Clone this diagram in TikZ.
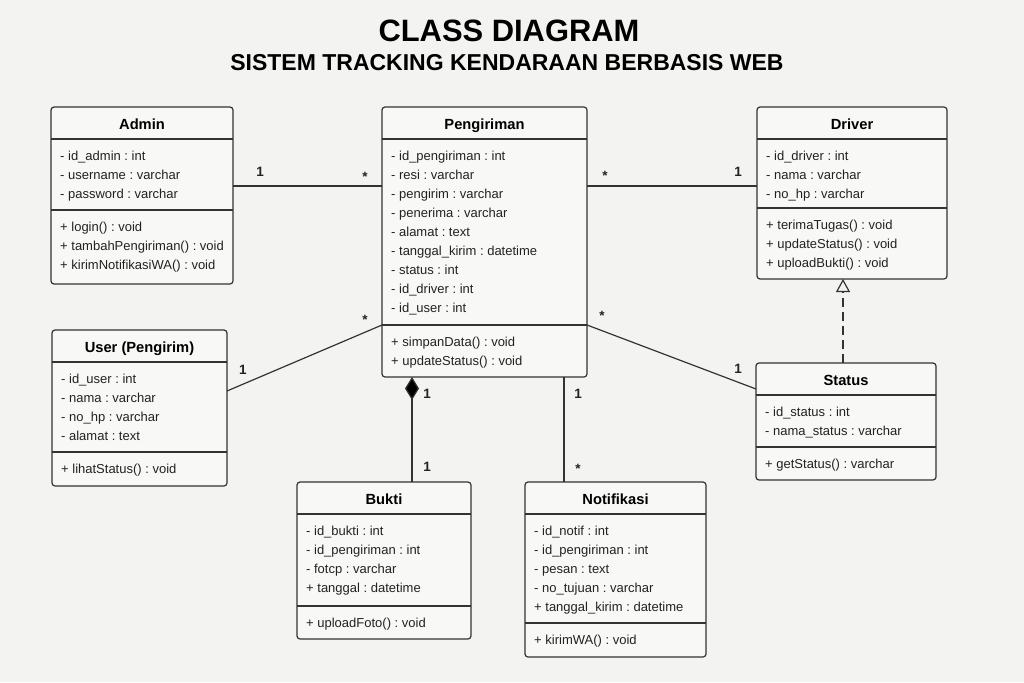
\documentclass[tikz,border=0pt]{standalone}
\usepackage{fontspec}
\setmainfont{Liberation Sans}
\usetikzlibrary{arrows.meta}
\frenchspacing
\definecolor{bg}{HTML}{F3F3F1}
\definecolor{boxfill}{HTML}{F8F8F7}
\definecolor{ink}{HTML}{333333}
\definecolor{txt}{HTML}{222222}
\tikzset{
  cls/.style={draw=ink, line width=1.2pt, fill=boxfill, rounded corners=3pt, inner sep=0pt, outer sep=0pt, anchor=north west},
  sepline/.style={draw=ink, line width=1.1pt},
  clstitle/.style={font=\fontsize{14.7}{16}\selectfont\bfseries, text=black, inner sep=0pt, anchor=base},
  member/.style={font=\fontsize{13}{15}\selectfont, text=txt, inner sep=0pt, anchor=base west},
  assoc/.style={draw=ink, line width=1.2pt},
  mult/.style={font=\fontsize{13.5}{15}\selectfont\bfseries, text=txt, inner sep=0pt, anchor=base},
}
\newcommand\umlclass[9]{%
  \node[cls, minimum width={(#4-#2)*1pt}, minimum height={(#5-#3)*1pt}] (#1) at (#2,#3) {};
  \draw[sepline] (#2,#3+32) -- (#4,#3+32);
  \draw[sepline] (#2,#7) -- (#4,#7);
  \node[clstitle] (#1-title) at ({(#2+#4)/2},#3+22) {#6};
  \foreach \t [count=\i from 0] in {#8} \node[member] (#1-a\i) at (#2+9,#3+53+19*\i) {\t};
  \foreach \t [count=\i from 0] in {#9} \node[member] (#1-m\i) at (#2+9,#7+21.5+19*\i) {\t};
}
\begin{document}
\begin{tikzpicture}[x=1pt,y=-1pt]
\fill[bg] (0,0) rectangle (1024,682);
\useasboundingbox (0,0) rectangle (1024,682);

\node[font=\fontsize{30.9}{34}\selectfont\bfseries, inner sep=0pt, anchor=base] (title) at (509,41.5) {CLASS DIAGRAM};
\node[font=\fontsize{23}{26}\selectfont\bfseries, inner sep=0pt, anchor=base] (subtitle) at (507,71) {SISTEM TRACKING KENDARAAN BERBASIS WEB};

\umlclass{admin}{51}{107}{233}{284}{Admin}{210}
  {- id\_admin : int, - username : varchar, - password : varchar}
  {+ login() : void, + tambahPengiriman() : void, + kirimNotifikasiWA() : void}
\umlclass{peng}{382}{107}{587}{377}{Pengiriman}{325}
  {- id\_pengiriman : int, - resi : varchar, - pengirim : varchar, - penerima : varchar, - alamat : text, - tanggal\_kirim : datetime, - status : int, - id\_driver : int, - id\_user : int}
  {+ simpanData() : void, + updateStatus() : void}
\umlclass{driver}{757}{107}{947}{279}{Driver}{208}
  {- id\_driver : int, - nama : varchar, - no\_hp : varchar}
  {+ terimaTugas() : void, + updateStatus() : void, + uploadBukti() : void}
\umlclass{user}{52}{330}{227}{486}{User (Pengirim)}{452}
  {- id\_user : int, - nama : varchar, - no\_hp : varchar, - alamat : text}
  {+ lihatStatus() : void}
\umlclass{status}{756}{363}{936}{480}{Status}{447}
  {- id\_status : int, - nama\_status : varchar}
  {+ getStatus() : varchar}
\umlclass{bukti}{297}{482}{471}{639}{Bukti}{606}
  {- id\_bukti : int, - id\_pengiriman : int, - fotcp : varchar, + tanggal : datetime}
  {+ uploadFoto() : void}
\umlclass{notif}{525}{482}{706}{657}{Notifikasi}{623}
  {- id\_notif : int, - id\_pengiriman : int, - pesan : text, - no\_tujuan : varchar, + tanggal\_kirim : datetime}
  {+ kirimWA() : void}

% connectors
\draw[assoc] (admin.east |- 0,186) -- (peng.west |- 0,186);
\draw[assoc] (peng.east |- 0,186) -- (driver.west |- 0,186);
\draw[assoc] (user.east |- 0,391) -- (peng.west |- 0,325);
\draw[assoc] (peng.east |- 0,325) -- (status.west |- 0,389);
\draw[assoc, dash pattern=on 9pt off 5pt, -{Triangle[open, length=13pt, width=14pt, fill=bg]}] (status.north -| 843,0) -- (driver.south -| 843,0);
\draw[assoc, {Diamond[length=23pt, width=14pt, fill=black]}-] (peng.south -| 412,0) -- (bukti.north -| 412,0);
\draw[assoc] (peng.south -| 564,0) -- (notif.north -| 564,0);

% multiplicities
\node[mult] (m1) at (260,176.5) {1};
\node[mult] (m2) at (365,181) {*};
\node[mult] (m3) at (605,180.5) {*};
\node[mult] (m4) at (738,176.5) {1};
\node[mult] (m5) at (243,374.5) {1};
\node[mult] (m6) at (365,324) {*};
\node[mult] (m7) at (602,320.5) {*};
\node[mult] (m8) at (738,373.5) {1};
\node[mult] (m9) at (427,398.5) {1};
\node[mult] (m10) at (427,471.5) {1};
\node[mult] (m11) at (578,398.5) {1};
\node[mult] (m12) at (578,473.5) {*};
\end{tikzpicture}
\end{document}
